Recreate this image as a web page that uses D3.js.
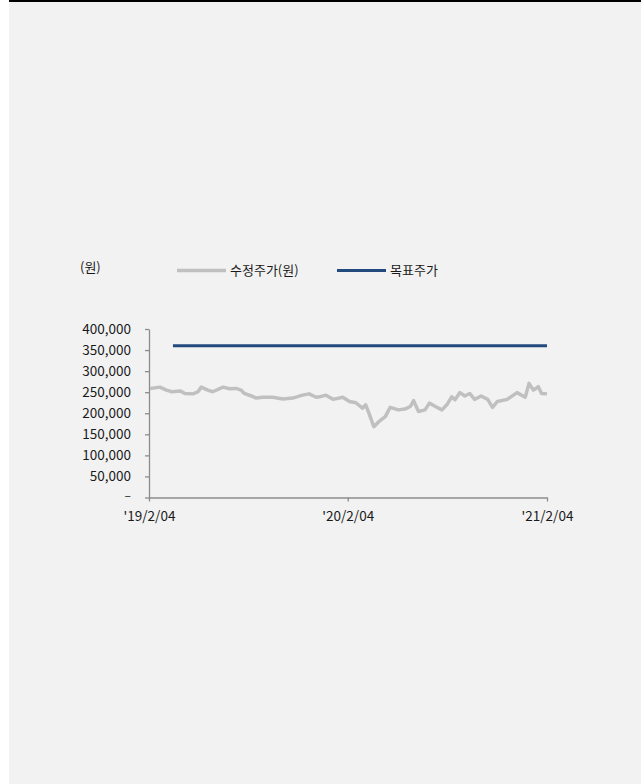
<!DOCTYPE html>
<html><head><meta charset="utf-8">
<script src="https://cdn.jsdelivr.net/npm/d3@7"></script>
<style>
html,body{margin:0;padding:0;background:#fff;}
svg{display:block;}
text{font-family:"Noto Sans CJK KR","Noto Sans",sans-serif;fill:#1a1a1a;}
</style></head>
<body>
<svg id="c" width="641" height="784"></svg>
<script>
const priceDates = ["2019-02-06","2019-02-24","2019-03-08","2019-03-18","2019-04-02","2019-04-11","2019-04-26","2019-05-05","2019-05-11","2019-05-23","2019-06-01","2019-06-20","2019-07-02","2019-07-14","2019-07-23","2019-07-29","2019-08-11","2019-08-20","2019-09-01","2019-09-19","2019-10-08","2019-10-26","2019-11-13","2019-11-25","2019-12-08","2019-12-14","2019-12-26","2020-01-08","2020-01-26","2020-02-07","2020-02-19","2020-03-02","2020-03-08","2020-03-14","2020-03-23","2020-04-01","2020-04-13","2020-04-22","2020-05-07","2020-05-19","2020-05-29","2020-06-04","2020-06-13","2020-06-25","2020-07-03","2020-07-14","2020-07-26","2020-08-04","2020-08-13","2020-08-19","2020-08-28","2020-09-06","2020-09-15","2020-09-24","2020-10-06","2020-10-18","2020-10-27","2020-11-05","2020-11-23","2020-12-11","2020-12-26","2021-01-02","2021-01-10","2021-01-19","2021-01-25","2021-02-04"];
const priceValues = [259000,262000,255000,251000,253000,247000,246000,251000,262000,255000,251000,262000,258000,259000,255000,247000,241000,236000,238000,238000,234000,236000,243000,246000,238000,239000,243000,233000,238000,228000,225000,212000,220000,200000,168000,180000,192000,214000,208000,210000,216000,230000,204000,208000,224000,216000,208000,220000,239000,232000,249000,241000,247000,233000,241000,233000,214000,228000,233000,249000,238000,271000,255000,263000,247000,246000];
const targetDates = ["2019-03-20","2021-02-04"];
const targetValues = [360000,360000];
const yTicks = [0,50000,100000,150000,200000,250000,300000,350000,400000];
const xTickDates = ["2019-02-04","2020-02-04","2021-02-04"];
const xTickLabels = ["'19/2/04","'20/2/04","'21/2/04"];
const seriesNames = ["수정주가(원)","목표주가"];
const unitLabel = "(원)";

const svg = d3.select("#c");
svg.append("rect").attr("x",9).attr("y",0).attr("width",632).attr("height",784).attr("fill","#f2f2f2");
svg.append("rect").attr("x",9).attr("y",0).attr("width",632).attr("height",2).attr("fill","#000");

const parse = d3.timeParse("%Y-%m-%d");
const x = d3.scaleTime().domain([parse("2019-02-04"),parse("2021-02-04")]).range([149,547]);
const y = d3.scaleLinear().domain([0,400000]).range([497.5,329]);

const axisColor = "#8c8c8c";
const fmt = v => v===0 ? "–" : d3.format(",")(v);

const ya = svg.append("g").attr("transform","translate(149,0)")
  .call(d3.axisLeft(y).tickValues(yTicks).tickFormat(fmt).tickSizeInner(4).tickSizeOuter(0).tickPadding(14));
ya.select(".domain").attr("stroke",axisColor).attr("stroke-width",1.3);
ya.selectAll(".tick line").attr("stroke",axisColor).attr("stroke-width",1.3);
ya.selectAll("text").style("font-size","13.5px").attr("fill","#1a1a1a").style("font-family",'"Noto Sans CJK KR",sans-serif');
ya.selectAll(".tick text").filter(d=>d===0).attr("dy","0.2em").style("font-size","12px");

const xa = svg.append("g").attr("transform","translate(0,497.5)")
  .call(d3.axisBottom(x).tickValues(xTickDates.map(parse)).tickFormat((d,i)=>xTickLabels[i]).tickSizeInner(4).tickSizeOuter(0).tickPadding(10));
xa.select(".domain").attr("stroke",axisColor).attr("stroke-width",1.3);
xa.selectAll(".tick line").attr("stroke",axisColor).attr("stroke-width",1.3);
xa.selectAll("text").style("font-size","13.5px").attr("fill","#1a1a1a").style("font-family",'"Noto Sans CJK KR",sans-serif');

const line = d3.line().x(d=>x(d[0])).y(d=>y(d[1]));
const targetData = targetDates.map((d,i)=>[parse(d),targetValues[i]]);
const priceData = priceDates.map((d,i)=>[parse(d),priceValues[i]]);

svg.append("path").datum(priceData).attr("d",line).attr("fill","none")
  .attr("stroke","#c0c0c0").attr("stroke-width",3.5).attr("stroke-linejoin","round");
svg.append("path").datum(targetData).attr("d",line).attr("fill","none")
  .attr("stroke","#234a7e").attr("stroke-width",3);

// legend
svg.append("text").attr("x",80).attr("y",272).style("font-size","13px").text(unitLabel);
const leg = [{x1:177,x2:226,c:"#c0c0c0",w:3.5,tx:230,t:seriesNames[0]},{x1:337,x2:386,c:"#234a7e",w:3,tx:390,t:seriesNames[1]}];
leg.forEach(l=>{
  svg.append("line").attr("x1",l.x1).attr("x2",l.x2).attr("y1",270.5).attr("y2",270.5).attr("stroke",l.c).attr("stroke-width",l.w);
  svg.append("text").attr("x",l.tx).attr("y",275).style("font-size","13px").text(l.t);
});
</script>
</body></html>
